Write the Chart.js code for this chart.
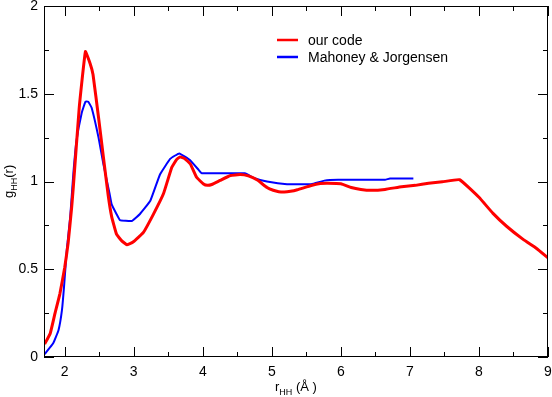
<!DOCTYPE html>
<html>
<head>
<meta charset="utf-8">
<script src="https://cdn.jsdelivr.net/npm/chart.js@4.4.1/dist/chart.umd.min.js"></script>
<style>
  html, body { margin: 0; padding: 0; background: #fff; }
  #wrap { width: 552px; height: 397px; }
</style>
</head>
<body>
<div id="wrap"><canvas id="gofr"></canvas></div>
<script>
// ---- data ----
const ourR = [1.71, 1.79, 1.86, 1.93, 2.0, 2.05, 2.1, 2.125, 2.21, 2.30, 2.37, 2.41, 2.49, 2.56, 2.63,
  2.68, 2.75, 2.83, 2.90, 2.99, 3.14, 3.28, 3.43, 3.55, 3.62, 3.67, 3.74, 3.82, 3.91, 4.01, 4.07, 4.13, 4.25, 4.40,
  4.54, 4.66, 4.79, 4.93, 5.02, 5.10, 5.18, 5.27, 5.37, 5.57, 5.70, 5.81, 6.0, 6.15, 6.29, 6.44, 6.64, 6.88, 7.08, 7.27,
  7.47, 7.72, 8.0, 8.2, 8.4, 8.64, 8.83, 9.0];
const ourG = [0.074, 0.134, 0.25, 0.36, 0.51, 0.65, 0.85, 0.97, 1.42, 1.74, 1.67, 1.61, 1.365, 1.14, 0.92,
  0.80, 0.70, 0.66, 0.64, 0.655, 0.71, 0.81, 0.93, 1.08, 1.125, 1.14, 1.13, 1.10, 1.024, 0.986, 0.978, 0.983, 1.006, 1.034,
  1.04, 1.032, 1.008, 0.966, 0.95, 0.942, 0.94, 0.944, 0.953, 0.977, 0.988, 0.99, 0.987, 0.966, 0.955, 0.95, 0.955, 0.97, 0.978, 0.99,
  0.998, 1.01, 0.91, 0.82, 0.745, 0.67, 0.62, 0.565];

const mjR = [1.71, 1.835, 1.91, 1.96, 1.99, 2.03, 2.08, 2.125, 2.17, 2.246, 2.30, 2.34, 2.39, 2.49, 2.56,
  2.65, 2.68, 2.75, 2.80, 2.97, 3.09, 3.24, 3.38, 3.53, 3.66, 3.82, 3.94, 3.985, 4.61, 4.74, 4.93,
  5.22, 5.57, 5.76, 5.96, 6.64, 6.71, 7.05];
const mjG = [0.017, 0.08, 0.153, 0.267, 0.4, 0.61, 0.8, 1.045, 1.23, 1.39, 1.455, 1.455, 1.42, 1.25, 1.10,
  0.93, 0.87, 0.815, 0.78, 0.775, 0.815, 0.89, 1.04, 1.13, 1.16, 1.12, 1.066, 1.047, 1.047, 1.02, 1.0,
  0.985, 0.985, 1.005, 1.01, 1.01, 1.017, 1.017];

const seriesNames = ['our code', 'Mahoney & Jorgensen'];
const seriesColors = ['#ff0000', '#0000ff'];

const xTicks = [2, 3, 4, 5, 6, 7, 8, 9];
const xMinor = [2.5, 3.5, 4.5, 5.5, 6.5, 7.5, 8.5];
const yTicks = [0, 0.5, 1, 1.5, 2];
const yLabels = ['0', '0.5', '1', '1.5', '2'];
const yMinor = [0.25, 0.75, 1.25, 1.75];

const FONT = '"Liberation Sans", Arial, sans-serif';

const toPts = (xs, ys) => xs.map((x, i) => ({ x: x, y: ys[i] }));

// frame, inward ticks, legend and axis titles (grace style)
const gracePlugin = {
  id: 'grace',
  afterDatasetsDraw(chart) {
    const { ctx, chartArea: a, scales } = chart;
    const xs = scales.x, ys = scales.y;
    ctx.save();
    ctx.strokeStyle = '#000';
    ctx.lineWidth = 1;
    ctx.strokeRect(a.left + 0.5, a.top + 0.5, a.right - a.left - 1, a.bottom - a.top - 1);
    ctx.beginPath();
    const tx = (v, len) => {
      const p = Math.round(xs.getPixelForValue(v)) + 0.5;
      ctx.moveTo(p, a.bottom); ctx.lineTo(p, a.bottom - len);
      ctx.moveTo(p, a.top); ctx.lineTo(p, a.top + len);
    };
    const ty = (v, len) => {
      const p = Math.round(ys.getPixelForValue(v)) + 0.5;
      ctx.moveTo(a.left, p); ctx.lineTo(a.left + len, p);
      ctx.moveTo(a.right, p); ctx.lineTo(a.right - len, p);
    };
    xTicks.forEach(v => tx(v, 10));
    xMinor.forEach(v => tx(v, 5));
    yTicks.forEach(v => ty(v, 10));
    yMinor.forEach(v => ty(v, 5));
    ctx.stroke();

    // legend
    ctx.font = '14px ' + FONT;
    ctx.textBaseline = 'alphabetic';
    ctx.textAlign = 'left';
    seriesNames.forEach((name, i) => {
      const y = 40 + i * 17;
      ctx.strokeStyle = seriesColors[i];
      ctx.lineWidth = 2.5;
      ctx.beginPath();
      ctx.moveTo(277, y); ctx.lineTo(298, y);
      ctx.stroke();
      ctx.fillStyle = '#000';
      ctx.fillText(name, 308, y + 5);
    });

    // x axis title: r_HH (Å )
    ctx.fillStyle = '#000';
    let x = 275, base = 391;
    ctx.font = '13px ' + FONT;
    ctx.fillText('r', x, base); x += ctx.measureText('r').width;
    ctx.font = '9px ' + FONT;
    ctx.fillText('HH', x, base + 4); x += ctx.measureText('HH').width;
    ctx.font = '13px ' + FONT;
    ctx.fillText(' (Å )', x, base);

    // y axis title: g_HH(r)
    ctx.translate(13, 198);
    ctx.rotate(-Math.PI / 2);
    x = 0;
    ctx.font = '13px ' + FONT;
    ctx.fillText('g', x, 0); x += ctx.measureText('g').width;
    ctx.font = '9px ' + FONT;
    ctx.fillText('HH', x, 4); x += ctx.measureText('HH').width;
    ctx.font = '13px ' + FONT;
    ctx.fillText('(r)', x, 0);
    ctx.restore();
  }
};

new Chart(document.getElementById('gofr').getContext('2d'), {
  type: 'line',
  data: {
    datasets: [
      {
        label: seriesNames[0],
        data: toPts(ourR, ourG),
        borderColor: seriesColors[0],
        borderWidth: 3,
        pointRadius: 0,
        tension: 0.1
      },
      {
        label: seriesNames[1],
        data: toPts(mjR, mjG),
        borderColor: seriesColors[1],
        borderWidth: 2,
        pointRadius: 0,
        tension: 0.1
      }
    ]
  },
  options: {
    responsive: true,
    maintainAspectRatio: false,
    animation: false,
    layout: { padding: { top: 6, right: 4, left: 0, bottom: 0 } },
    plugins: { legend: { display: false }, tooltip: { enabled: false } },
    scales: {
      x: {
        type: 'linear',
        min: 1.7,
        max: 9,
        afterBuildTicks: s => { s.ticks = xTicks.map(v => ({ value: v })); },
        afterFit: s => { s.height = 40; s.paddingLeft = 0; s.paddingRight = 0; },
        grid: { display: false, drawTicks: false },
        border: { display: false },
        ticks: { color: '#000', padding: 7, maxRotation: 0, font: { family: FONT, size: 14 } }
      },
      y: {
        type: 'linear',
        min: 0,
        max: 2,
        afterBuildTicks: s => { s.ticks = yTicks.map(v => ({ value: v })); },
        afterFit: s => { s.width = 44; s.paddingTop = 0; s.paddingBottom = 0; },
        grid: { display: false, drawTicks: false },
        border: { display: false },
        ticks: {
          color: '#000', padding: 6, font: { family: FONT, size: 14 },
          callback: (v, i) => yLabels[i]
        }
      }
    }
  },
  plugins: [gracePlugin]
});
</script>
</body>
</html>
